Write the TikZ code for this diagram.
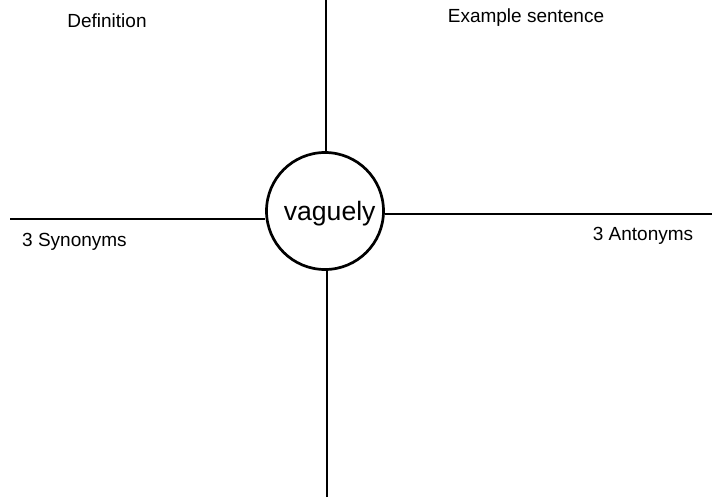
\documentclass[tikz,border=0pt]{standalone}
\usepackage{fontspec}
\setmainfont{Liberation Sans}
\begin{document}
\begin{tikzpicture}[x=1pt,y=-1pt,
  arm/.style={line width=2.7pt},
  label/.style={anchor=base,inner sep=0pt,font=\fontsize{19}{21}\selectfont},
  hub/.style={circle,draw,line width=2.7pt,minimum size=117pt,inner sep=0pt}]
\useasboundingbox (0,0) rectangle (712,499);
\node[hub] (c) at (325,211) {};
\node[anchor=base,inner sep=0pt,font=\fontsize{26.6}{30}\selectfont] (w) at (329.7,220.7) {vaguely};
\coordinate (t) at (326,0);
\coordinate (b) at (327,497);
\coordinate (l) at (10,219);
\coordinate (r) at (712,214);
\draw[arm] (t) -- (t |- c.north);
\draw[arm] (b) -- (b |- c.south);
\draw[arm] (l) -- (l -| c.west);
\draw[arm] (r) -- (r -| c.east);
\node[label] (def) at (107,27) {Definition};
\node[label] (ex) at (526,22.3) {Example sentence};
\node[label] (syn) at (74.5,246) {3 Synonyms};
\node[label] (ant) at (643,240) {3 Antonyms};
\end{tikzpicture}
\end{document}
